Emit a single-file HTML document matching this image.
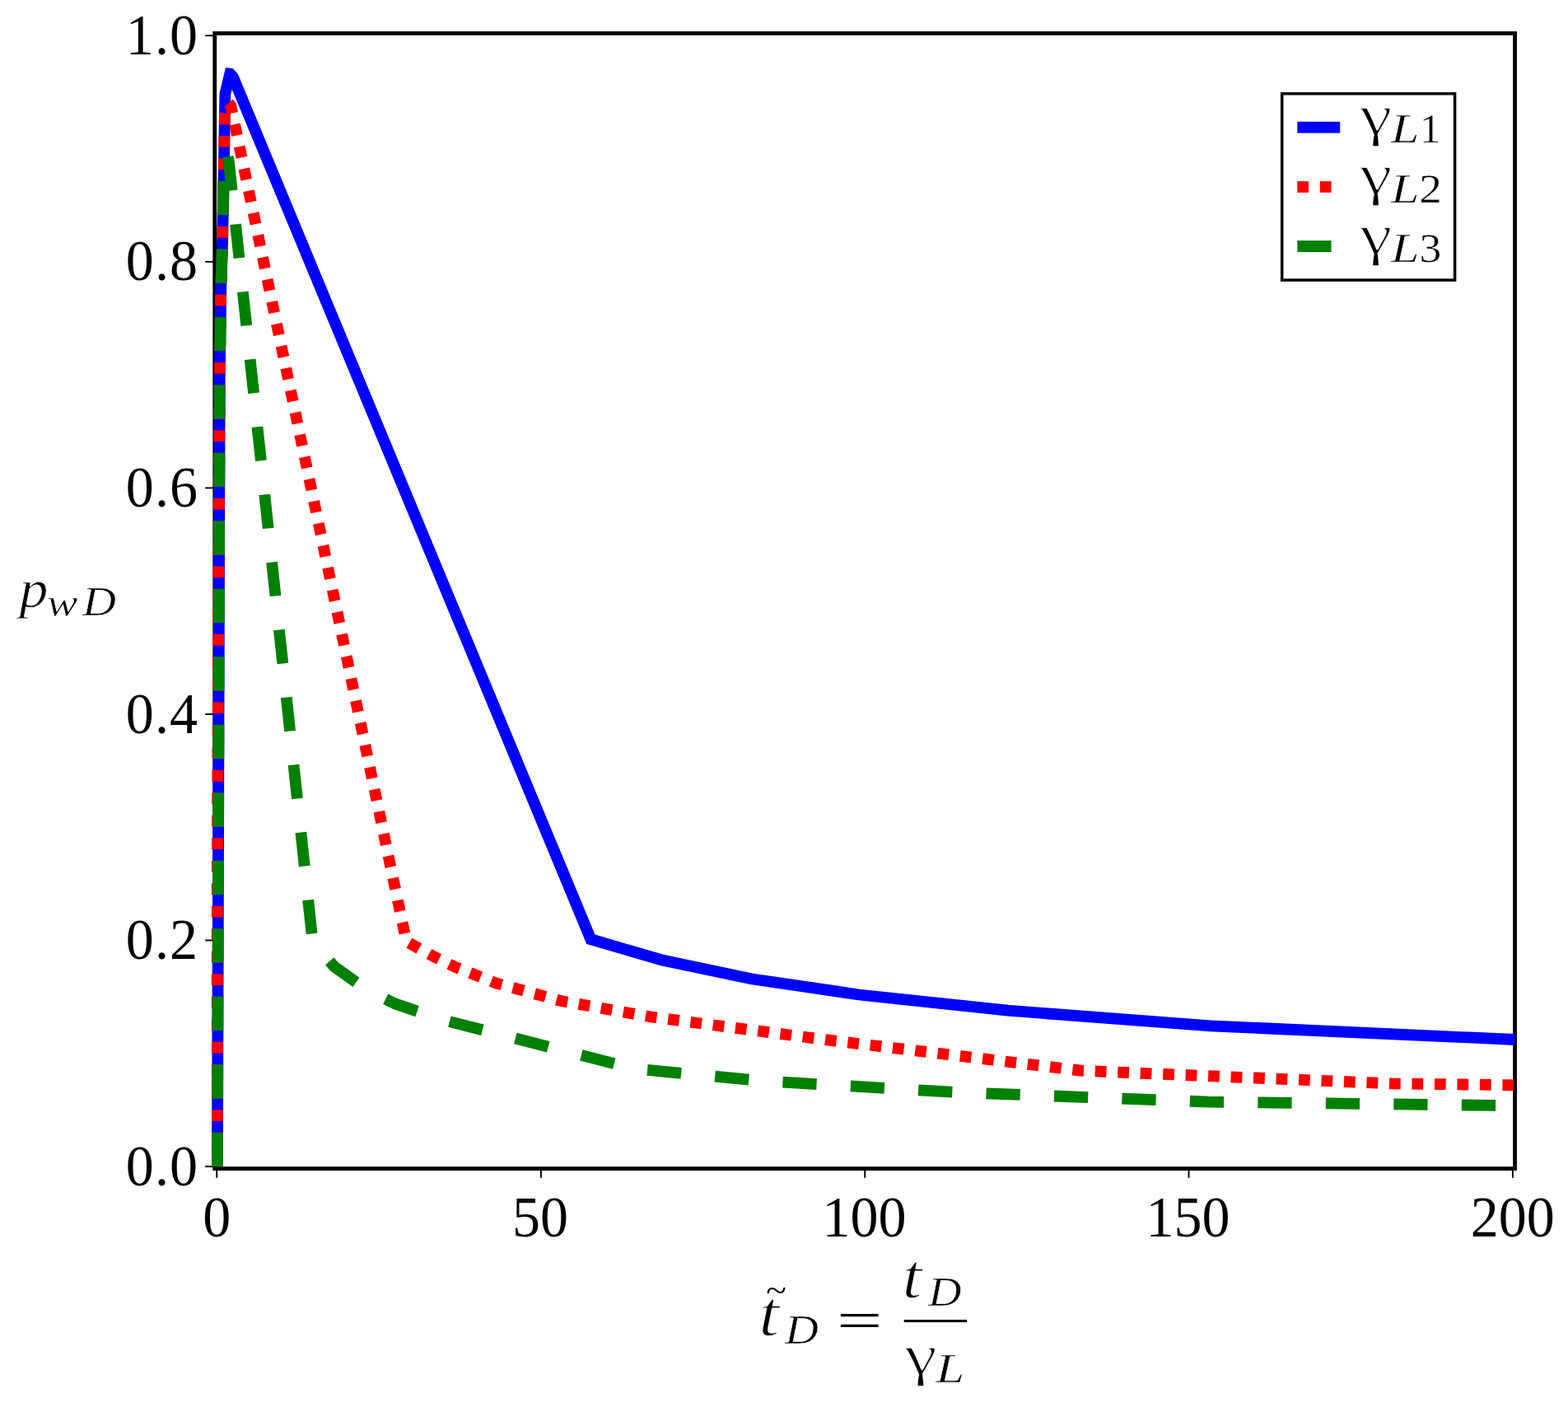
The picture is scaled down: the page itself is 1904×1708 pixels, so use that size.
<!DOCTYPE html>
<html lang="en"><head><meta charset="utf-8"><title>p_wD versus t_D / gamma_L</title>
<style>
html,body{margin:0;padding:0;background:#fff;}
body{width:1904px;height:1708px;overflow:hidden;}
svg{display:block;}
text{font-family:"Liberation Serif","DejaVu Serif",serif;fill:#000;paint-order:fill stroke;}
</style></head><body>
<svg width="1904" height="1708" viewBox="0 0 1904 1708">
<rect x="0" y="0" width="1904" height="1708" fill="#fff"/>
<g id="frame" fill="none" stroke="#000">
<rect x="260.75" y="40.46" width="1578.80" height="1378.14" stroke-width="4.80" stroke-linejoin="miter"/>
</g>
<g id="ticks" stroke="#000" stroke-width="1.90" fill="none">
<line x1="263.25" y1="1418.60" x2="263.25" y2="1429.80"/>
<line x1="656.90" y1="1418.60" x2="656.90" y2="1429.80"/>
<line x1="1050.25" y1="1418.60" x2="1050.25" y2="1429.80"/>
<line x1="1443.50" y1="1418.60" x2="1443.50" y2="1429.80"/>
<line x1="1836.90" y1="1418.60" x2="1836.90" y2="1429.80"/>
<line x1="249.20" y1="1416.10" x2="260.75" y2="1416.10"/>
<line x1="249.20" y1="1141.52" x2="260.75" y2="1141.52"/>
<line x1="249.20" y1="866.94" x2="260.75" y2="866.94"/>
<line x1="249.20" y1="592.36" x2="260.75" y2="592.36"/>
<line x1="249.20" y1="317.78" x2="260.75" y2="317.78"/>
<line x1="249.20" y1="43.20" x2="260.75" y2="43.20"/>
</g>
<g id="ticklabels" font-size="100">
<text transform="matrix(0.6800 0 0 0.6980 263.25 1500.90)" text-anchor="middle">0</text>
<text transform="matrix(0.6800 0 0 0.6980 656.00 1500.90)" text-anchor="middle">50</text>
<text transform="matrix(0.6800 0 0 0.6980 1049.55 1500.90)" text-anchor="middle">100</text>
<text transform="matrix(0.6800 0 0 0.6980 1442.50 1500.90)" text-anchor="middle">150</text>
<text transform="matrix(0.6800 0 0 0.6980 1836.70 1500.90)" text-anchor="middle">200</text>
<text transform="matrix(0.6800 0 0 0.6980 240.10 1438.80)" text-anchor="end" textLength="128.53" lengthAdjust="spacing">0.0</text>
<text transform="matrix(0.6800 0 0 0.6980 240.10 1164.22)" text-anchor="end" textLength="128.53" lengthAdjust="spacing">0.2</text>
<text transform="matrix(0.6800 0 0 0.6980 240.10 889.64)" text-anchor="end" textLength="128.53" lengthAdjust="spacing">0.4</text>
<text transform="matrix(0.6800 0 0 0.6980 240.10 615.06)" text-anchor="end" textLength="128.53" lengthAdjust="spacing">0.6</text>
<text transform="matrix(0.6800 0 0 0.6980 240.10 340.48)" text-anchor="end" textLength="128.53" lengthAdjust="spacing">0.8</text>
<text transform="matrix(0.6800 0 0 0.6980 240.10 65.90)" text-anchor="end" textLength="128.53" lengthAdjust="spacing">1.0</text>
</g>
<g id="curves" fill="none" stroke-width="13.80" stroke-linejoin="miter" stroke-miterlimit="4" stroke-linecap="butt">
<polyline stroke="#0000ff" points="263.93,1416.10 266.70,460.00 268.30,348.00 269.90,300.00 271.20,240.00 272.50,165.00 273.41,113.89 279.27,89.68 279.57,89.72 283.04,93.75 717.40,1140.20 802.90,1165.20 912.20,1188.30 1042.90,1207.50 1223.50,1226.70 1470.00,1245.30 1839.65,1262.00"/>
<g stroke="#ff0000" stroke-dasharray="13.75 13.75">
<polyline points="263.93,1416.10 263.75,1140.00 264.15,980.00 266.70,460.00 268.30,348.00 269.90,300.00 271.20,240.00 272.50,165.00 272.95,140.50 273.55,137.35"/>
<polyline points="277.50,124.90 280.25,128.10 493.40,1142.80 527.10,1161.45 551.85,1173.55 602.80,1193.60 682.40,1215.30 790.80,1234.50 1008.70,1262.95 1314.00,1299.80 1690.00,1315.40 1839.65,1317.25"/>
</g>
<g stroke="#008000" stroke-dasharray="41.25 41.25">
<polyline points="263.93,1416.10 266.70,460.00 268.30,348.00 269.90,300.00 271.20,240.00 271.60,220.00 271.61,219.85"/>
<polyline points="276.70,190.30 278.00,197.50 379.70,1143.90 405.85,1173.30 443.40,1200.30 479.50,1218.40 535.00,1237.30 770.40,1297.40 926.60,1312.30 1163.50,1326.10 1467.70,1337.60 1839.65,1342.25"/>
</g>
</g>
<g id="legend">
<rect x="1556.7" y="113.7" width="209.90" height="226.30" fill="#fff" stroke="#000" stroke-width="3.5"/>
<line x1="1575.3" y1="154.60" x2="1627.2" y2="154.60" stroke="#0000ff" stroke-width="13.80"/>
<line x1="1575.3" y1="226.85" x2="1627.2" y2="226.85" stroke="#ff0000" stroke-width="13.80" stroke-dasharray="13.75 13.75"/>
<line x1="1575.3" y1="299.00" x2="1627.2" y2="299.00" stroke="#008000" stroke-width="13.80" stroke-dasharray="41.25 41.25"/>
<text transform="matrix(0.9015 0 0 0.6966 1650.73 163.07)" font-size="100" stroke="#fff" stroke-width="2.50" stroke-linejoin="round">γ</text>
<text transform="matrix(0.6205 0 0 0.5147 1689.08 173.45)" font-size="100" font-style="italic" stroke="#fff" stroke-width="1.23" stroke-linejoin="round">L</text>
<text transform="matrix(0.5198 0 0 0.5029 1723.73 173.30)" font-size="100" stroke="#fff" stroke-width="0.78" stroke-linejoin="round">1</text>
<text transform="matrix(0.9015 0 0 0.6966 1650.73 235.37)" font-size="100" stroke="#fff" stroke-width="2.50" stroke-linejoin="round">γ</text>
<text transform="matrix(0.6205 0 0 0.5147 1689.08 245.75)" font-size="100" font-style="italic" stroke="#fff" stroke-width="1.23" stroke-linejoin="round">L</text>
<text transform="matrix(0.5538 0 0 0.5014 1723.27 245.60)" font-size="100" stroke="#fff" stroke-width="0.76" stroke-linejoin="round">2</text>
<text transform="matrix(0.9015 0 0 0.6966 1650.73 307.67)" font-size="100" stroke="#fff" stroke-width="2.50" stroke-linejoin="round">γ</text>
<text transform="matrix(0.6205 0 0 0.5147 1689.08 318.05)" font-size="100" font-style="italic" stroke="#fff" stroke-width="1.23" stroke-linejoin="round">L</text>
<text transform="matrix(0.5350 0 0 0.5165 1723.54 318.30)" font-size="100" stroke="#fff" stroke-width="0.76" stroke-linejoin="round">3</text>
</g>
<g id="ylabel">
<text transform="matrix(0.6984 0 0 0.6520 23.54 737.17)" font-size="100" font-style="italic" stroke="#fff" stroke-width="1.33" stroke-linejoin="round">p</text>
<text transform="matrix(0.5615 0 0 0.4811 57.01 747.78)" font-size="100" font-style="italic" stroke="#fff" stroke-width="1.34" stroke-linejoin="round">w</text>
<text transform="matrix(0.5639 0 0 0.5078 100.33 747.40)" font-size="100" font-style="italic" stroke="#fff" stroke-width="1.12" stroke-linejoin="round">D</text>
</g>
<g id="xlabel">
<text transform="matrix(0.4563 0 0 0.4227 930.23 1579.76)" font-size="100">~</text>
<text transform="matrix(0.8940 0 0 0.7813 921.37 1621.34)" font-size="100" font-style="italic" stroke="#fff" stroke-width="1.67" stroke-linejoin="round">t</text>
<text transform="matrix(0.5625 0 0 0.5010 953.13 1631.00)" font-size="100" font-style="italic" stroke="#fff" stroke-width="1.13" stroke-linejoin="round">D</text>
<text transform="matrix(0.9821 0 0 0.6240 1016.11 1624.02)" font-size="100">=</text>
<rect x="1097.7" y="1602.1" width="76.4" height="3.0" fill="#000"/>
<text transform="matrix(0.8625 0 0 0.7665 1095.61 1574.85)" font-size="100" font-style="italic" stroke="#fff" stroke-width="1.72" stroke-linejoin="round">t</text>
<text transform="matrix(0.5569 0 0 0.5010 1127.23 1584.60)" font-size="100" font-style="italic" stroke="#fff" stroke-width="1.13" stroke-linejoin="round">D</text>
<text transform="matrix(0.9039 0 0 0.6980 1097.93 1668.14)" font-size="100" stroke="#fff" stroke-width="2.50" stroke-linejoin="round">γ</text>
<text transform="matrix(0.6244 0 0 0.5162 1136.38 1677.65)" font-size="100" font-style="italic" stroke="#fff" stroke-width="1.23" stroke-linejoin="round">L</text>
</g>
</svg>
</body></html>
